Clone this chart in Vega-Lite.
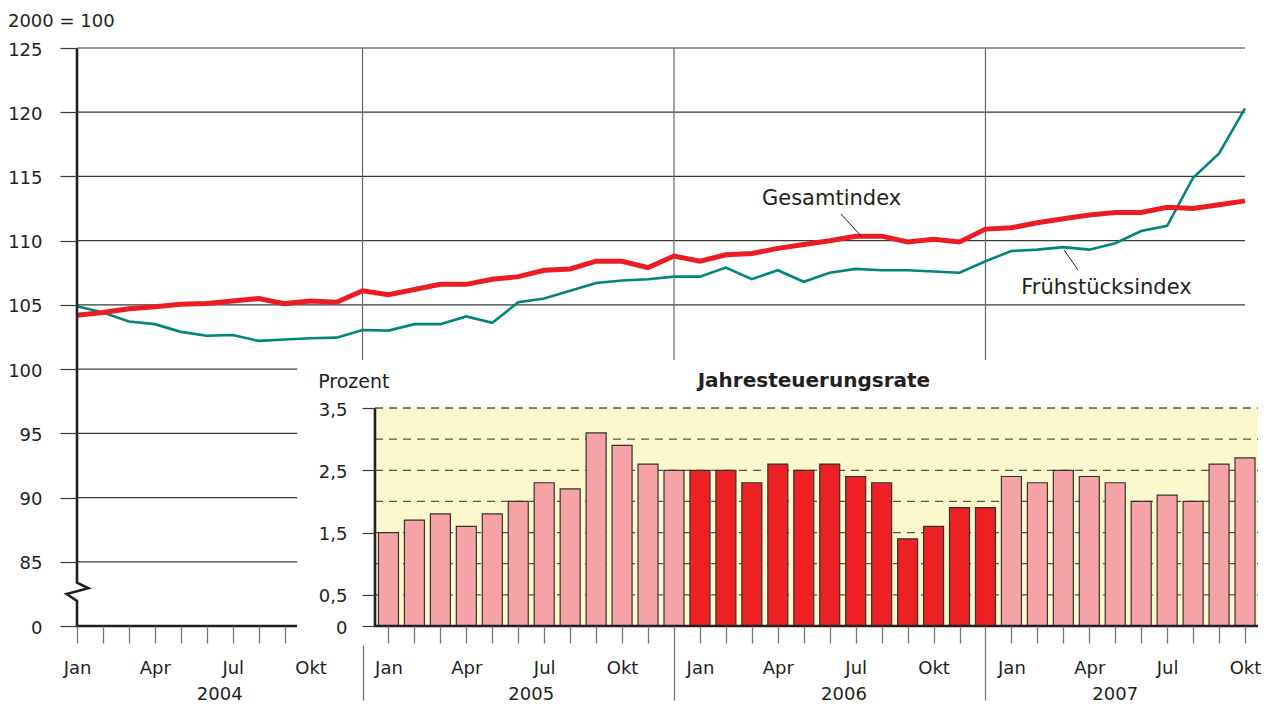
{
  "$schema": "https://vega.github.io/schema/vega-lite/v6.json",
  "width": 1181,
  "height": 578,
  "autosize": {"type": "none"},
  "padding": {"left": 77, "top": 48, "right": 16, "bottom": 80},
  "background": "white",
  "config": {
    "view": {"stroke": null},
    "font": "DejaVu Sans",
    "scale": {"continuousPadding": 0},
    "text": {"font": "DejaVu Sans", "color": "#231f20"}
  },
  "datasets": {
    "idx": [
      {"m": 0, "monat": "2004-01", "gesamt": 104.2, "frueh": 104.9},
      {"m": 1, "monat": "2004-02", "gesamt": 104.4, "frueh": 104.4},
      {"m": 2, "monat": "2004-03", "gesamt": 104.7, "frueh": 103.7},
      {"m": 3, "monat": "2004-04", "gesamt": 104.85, "frueh": 103.5},
      {"m": 4, "monat": "2004-05", "gesamt": 105.05, "frueh": 102.9},
      {"m": 5, "monat": "2004-06", "gesamt": 105.1, "frueh": 102.6},
      {"m": 6, "monat": "2004-07", "gesamt": 105.3, "frueh": 102.65},
      {"m": 7, "monat": "2004-08", "gesamt": 105.5, "frueh": 102.2},
      {"m": 8, "monat": "2004-09", "gesamt": 105.1, "frueh": 102.3},
      {"m": 9, "monat": "2004-10", "gesamt": 105.3, "frueh": 102.4},
      {"m": 10, "monat": "2004-11", "gesamt": 105.2, "frueh": 102.45},
      {"m": 11, "monat": "2004-12", "gesamt": 106.1, "frueh": 103.05},
      {"m": 12, "monat": "2005-01", "gesamt": 105.8, "frueh": 103.0},
      {"m": 13, "monat": "2005-02", "gesamt": 106.2, "frueh": 103.5},
      {"m": 14, "monat": "2005-03", "gesamt": 106.6, "frueh": 103.5},
      {"m": 15, "monat": "2005-04", "gesamt": 106.6, "frueh": 104.1},
      {"m": 16, "monat": "2005-05", "gesamt": 107.0, "frueh": 103.6},
      {"m": 17, "monat": "2005-06", "gesamt": 107.2, "frueh": 105.2},
      {"m": 18, "monat": "2005-07", "gesamt": 107.7, "frueh": 105.5},
      {"m": 19, "monat": "2005-08", "gesamt": 107.8, "frueh": 106.1},
      {"m": 20, "monat": "2005-09", "gesamt": 108.4, "frueh": 106.7},
      {"m": 21, "monat": "2005-10", "gesamt": 108.4, "frueh": 106.9},
      {"m": 22, "monat": "2005-11", "gesamt": 107.9, "frueh": 107.0},
      {"m": 23, "monat": "2005-12", "gesamt": 108.8, "frueh": 107.2},
      {"m": 24, "monat": "2006-01", "gesamt": 108.4, "frueh": 107.2},
      {"m": 25, "monat": "2006-02", "gesamt": 108.9, "frueh": 107.9},
      {"m": 26, "monat": "2006-03", "gesamt": 109.0, "frueh": 107.0},
      {"m": 27, "monat": "2006-04", "gesamt": 109.4, "frueh": 107.7},
      {"m": 28, "monat": "2006-05", "gesamt": 109.7, "frueh": 106.8},
      {"m": 29, "monat": "2006-06", "gesamt": 110.0, "frueh": 107.5},
      {"m": 30, "monat": "2006-07", "gesamt": 110.35, "frueh": 107.8},
      {"m": 31, "monat": "2006-08", "gesamt": 110.35, "frueh": 107.7},
      {"m": 32, "monat": "2006-09", "gesamt": 109.9, "frueh": 107.7},
      {"m": 33, "monat": "2006-10", "gesamt": 110.1, "frueh": 107.6},
      {"m": 34, "monat": "2006-11", "gesamt": 109.9, "frueh": 107.5},
      {"m": 35, "monat": "2006-12", "gesamt": 110.9, "frueh": 108.4},
      {"m": 36, "monat": "2007-01", "gesamt": 111.0, "frueh": 109.2},
      {"m": 37, "monat": "2007-02", "gesamt": 111.4, "frueh": 109.3},
      {"m": 38, "monat": "2007-03", "gesamt": 111.7, "frueh": 109.5},
      {"m": 39, "monat": "2007-04", "gesamt": 112.0, "frueh": 109.3},
      {"m": 40, "monat": "2007-05", "gesamt": 112.2, "frueh": 109.8},
      {"m": 41, "monat": "2007-06", "gesamt": 112.2, "frueh": 110.75},
      {"m": 42, "monat": "2007-07", "gesamt": 112.6, "frueh": 111.15},
      {"m": 43, "monat": "2007-08", "gesamt": 112.5, "frueh": 114.9},
      {"m": 44, "monat": "2007-09", "gesamt": 112.8, "frueh": 116.8},
      {"m": 45, "monat": "2007-10", "gesamt": 113.1, "frueh": 120.3}
    ],
    "rate": [
      {"m": 12, "monat": "2005-01", "jahr": "2005", "rate": 1.5},
      {"m": 13, "monat": "2005-02", "jahr": "2005", "rate": 1.7},
      {"m": 14, "monat": "2005-03", "jahr": "2005", "rate": 1.8},
      {"m": 15, "monat": "2005-04", "jahr": "2005", "rate": 1.6},
      {"m": 16, "monat": "2005-05", "jahr": "2005", "rate": 1.8},
      {"m": 17, "monat": "2005-06", "jahr": "2005", "rate": 2.0},
      {"m": 18, "monat": "2005-07", "jahr": "2005", "rate": 2.3},
      {"m": 19, "monat": "2005-08", "jahr": "2005", "rate": 2.2},
      {"m": 20, "monat": "2005-09", "jahr": "2005", "rate": 3.1},
      {"m": 21, "monat": "2005-10", "jahr": "2005", "rate": 2.9},
      {"m": 22, "monat": "2005-11", "jahr": "2005", "rate": 2.6},
      {"m": 23, "monat": "2005-12", "jahr": "2005", "rate": 2.5},
      {"m": 24, "monat": "2006-01", "jahr": "2006", "rate": 2.5},
      {"m": 25, "monat": "2006-02", "jahr": "2006", "rate": 2.5},
      {"m": 26, "monat": "2006-03", "jahr": "2006", "rate": 2.3},
      {"m": 27, "monat": "2006-04", "jahr": "2006", "rate": 2.6},
      {"m": 28, "monat": "2006-05", "jahr": "2006", "rate": 2.5},
      {"m": 29, "monat": "2006-06", "jahr": "2006", "rate": 2.6},
      {"m": 30, "monat": "2006-07", "jahr": "2006", "rate": 2.4},
      {"m": 31, "monat": "2006-08", "jahr": "2006", "rate": 2.3},
      {"m": 32, "monat": "2006-09", "jahr": "2006", "rate": 1.4},
      {"m": 33, "monat": "2006-10", "jahr": "2006", "rate": 1.6},
      {"m": 34, "monat": "2006-11", "jahr": "2006", "rate": 1.9},
      {"m": 35, "monat": "2006-12", "jahr": "2006", "rate": 1.9},
      {"m": 36, "monat": "2007-01", "jahr": "2007", "rate": 2.4},
      {"m": 37, "monat": "2007-02", "jahr": "2007", "rate": 2.3},
      {"m": 38, "monat": "2007-03", "jahr": "2007", "rate": 2.5},
      {"m": 39, "monat": "2007-04", "jahr": "2007", "rate": 2.4},
      {"m": 40, "monat": "2007-05", "jahr": "2007", "rate": 2.3},
      {"m": 41, "monat": "2007-06", "jahr": "2007", "rate": 2.0},
      {"m": 42, "monat": "2007-07", "jahr": "2007", "rate": 2.1},
      {"m": 43, "monat": "2007-08", "jahr": "2007", "rate": 2.0},
      {"m": 44, "monat": "2007-09", "jahr": "2007", "rate": 2.6},
      {"m": 45, "monat": "2007-10", "jahr": "2007", "rate": 2.7}
    ],
    "grid": [{"v": 85}, {"v": 90}, {"v": 95}, {"v": 100}, {"v": 105}, {"v": 110}, {"v": 115}, {"v": 120}, {"v": 125}],
    "sep": [{"m": 11}, {"m": 23}, {"m": 35}],
    "dashgrid": [{"v": 0.5}, {"v": 1.0}, {"v": 1.5}, {"v": 2.0}, {"v": 2.5}, {"v": 3.0}, {"v": 3.5}],
    "axisline": [
      {"o": 1, "m": 0, "v": 125},
      {"o": 2, "m": 0, "v": 83.37},
      {"o": 3, "m": 0.44, "v": 82.94},
      {"o": 4, "m": -0.4, "v": 82.49},
      {"o": 5, "m": 0, "v": 81.95},
      {"o": 6, "m": 0, "v": 80},
      {"o": 7, "m": 8.48, "v": 80}
    ],
    "years": [
      {"jahr": "2004", "m": 5.5},
      {"jahr": "2005", "m": 17.5},
      {"jahr": "2006", "m": 29.55},
      {"jahr": "2007", "m": 40.0}
    ]
  },
  "layer": [
    {
      "layer": [
        {
          "data": {"name": "grid"},
          "mark": {"type": "rule", "color": "#3a3a3a", "strokeWidth": 1.2},
          "encoding": {
            "y": {
              "field": "v", "type": "quantitative",
              "scale": {"domain": [80, 125], "nice": false, "zero": false},
              "axis": {
                "orient": "left", "values": [80, 85, 90, 95, 100, 105, 110, 115, 120, 125],
                "labelExpr": "datum.value == 80 ? '0' : '' + datum.value",
                "domain": false, "grid": false, "title": null,
                "tickSize": 17, "tickColor": "#3a3a3a", "tickWidth": 1.2,
                "labelFontSize": 18, "labelColor": "#231f20", "labelFont": "DejaVu Sans",
                "labelPadding": 18, "labelBaseline": "alphabetic", "labelOffset": 7,
                "zindex": 1
              }
            },
            "x": {
              "datum": 0, "type": "quantitative",
              "scale": {"domain": [0, 45.5], "nice": false, "zero": false, "padding": 0},
              "axis": {
                "orient": "bottom", "title": null, "domain": false, "grid": false,
                "values": [0,1,2,3,4,5,6,7,8,9,10,11,12,13,14,15,16,17,18,19,20,21,22,23,24,25,26,27,28,29,30,31,32,33,34,35,36,37,38,39,40,41,42,43,44,45],
                "tickCount": 46,
                "labelExpr": "datum.value % 3 == 0 ? ['Jan','Apr','Jul','Okt'][(datum.value % 12) / 3] : ''",
                "tickColor": "#777777", "tickWidth": 1.3,
                "tickSize": {"condition": {"test": "datum.value % 12 == 11", "value": 74}, "value": 17},
                "tickOpacity": {"condition": {"test": "datum.value == 9 || datum.value == 10", "value": 0}, "value": 1},
                "tickDash": {"condition": {"test": "datum.value == 11", "value": [0, 19, 60, 0]}, "value": [100, 0]},
                "labelFontSize": 18, "labelColor": "#231f20", "labelFont": "DejaVu Sans",
                "labelPadding": 16, "labelBaseline": "top", "labelOverlap": false,
                "labelFlush": false, "labelBound": false, "zindex": 1
              }
            },
            "x2": {"datum": 45}
          }
        },
        {
          "data": {"name": "sep"},
          "mark": {"type": "rule", "color": "#666666", "strokeWidth": 1.2},
          "encoding": {
            "x": {"field": "m", "type": "quantitative"},
            "y": {"datum": 80, "type": "quantitative"},
            "y2": {"datum": 125}
          }
        },
        {
          "data": {"name": "idx"},
          "mark": {"type": "line", "color": "#00857D", "strokeWidth": 2.6},
          "encoding": {
            "x": {"field": "m", "type": "quantitative"},
            "y": {"field": "frueh", "type": "quantitative"}
          }
        },
        {
          "data": {"name": "idx"},
          "mark": {"type": "line", "color": "#ED1C24", "strokeWidth": 5},
          "encoding": {
            "x": {"field": "m", "type": "quantitative"},
            "y": {"field": "gesamt", "type": "quantitative"}
          }
        },
        {
          "data": {"values": [{}]},
          "mark": {"type": "rule", "color": "#231f20", "strokeWidth": 1},
          "encoding": {
            "x": {"datum": 29.43, "type": "quantitative"},
            "x2": {"datum": 30.24},
            "y": {"datum": 112.08, "type": "quantitative"},
            "y2": {"datum": 110.29}
          }
        },
        {
          "data": {"values": [{}]},
          "mark": {"type": "rule", "color": "#231f20", "strokeWidth": 1},
          "encoding": {
            "x": {"datum": 38.03, "type": "quantitative"},
            "x2": {"datum": 38.57},
            "y": {"datum": 109.27, "type": "quantitative"},
            "y2": {"datum": 107.71}
          }
        },
        {
          "data": {"values": [{}]},
          "mark": {"type": "text", "text": "Gesamtindex", "fontSize": 21, "align": "center", "baseline": "alphabetic"},
          "encoding": {
            "x": {"datum": 29.07, "type": "quantitative"},
            "y": {"datum": 112.78, "type": "quantitative"}
          }
        },
        {
          "data": {"values": [{}]},
          "mark": {"type": "text", "text": "Frühstücksindex", "fontSize": 21, "align": "center", "baseline": "alphabetic"},
          "encoding": {
            "x": {"datum": 39.66, "type": "quantitative"},
            "y": {"datum": 105.85, "type": "quantitative"}
          }
        },
        {
          "data": {"values": [{}]},
          "mark": {"type": "text", "text": "2000 = 100", "fontSize": 18, "align": "left", "baseline": "alphabetic"},
          "encoding": {
            "x": {"datum": -2.66, "type": "quantitative"},
            "y": {"datum": 126.63, "type": "quantitative"}
          }
        },
        {
          "data": {"name": "years"},
          "mark": {"type": "text", "fontSize": 18, "align": "center", "baseline": "alphabetic"},
          "encoding": {
            "x": {"field": "m", "type": "quantitative"},
            "y": {"datum": 74.24, "type": "quantitative"},
            "text": {"field": "jahr"}
          }
        },
        {
          "data": {"name": "axisline"},
          "mark": {"type": "line", "color": "#231f20", "strokeWidth": 2.6, "strokeJoin": "miter"},
          "encoding": {
            "x": {"field": "m", "type": "quantitative"},
            "y": {"field": "v", "type": "quantitative"},
            "order": {"field": "o"}
          }
        }
      ]
    },
    {
      "layer": [
        {
          "data": {"values": [{}]},
          "mark": {"type": "rect", "color": "white"},
          "encoding": {
            "x": {"datum": 8.48, "type": "quantitative"},
            "x2": {"datum": 45.5},
            "y": {
              "datum": 4.27, "type": "quantitative",
              "scale": {"domain": [0, 3.5], "range": [578, 360], "nice": false, "zero": false},
              "axis": {
                "orient": "left", "offset": -298, "values": [0, 0.5, 1.5, 2.5, 3.5],
                "labelExpr": "replace('' + datum.value, '.', ',')",
                "domain": false, "grid": false, "title": null,
                "tickSize": 13, "tickColor": "#3a3a3a", "tickWidth": 1.2,
                "labelFontSize": 18, "labelColor": "#231f20", "labelFont": "DejaVu Sans",
                "labelPadding": 15, "labelBaseline": "alphabetic", "labelOffset": 7,
                "zindex": 1
              }
            },
            "y2": {"datum": 0}
          }
        },
        {
          "data": {"values": [{}]},
          "mark": {"type": "rect", "color": "#FDF7CC"},
          "encoding": {
            "x": {"datum": 11.48, "type": "quantitative"},
            "x2": {"datum": 45.5},
            "y": {"datum": 3.5, "type": "quantitative"},
            "y2": {"datum": 0}
          }
        },
        {
          "data": {"name": "dashgrid"},
          "mark": {"type": "rule", "color": "#555555", "strokeWidth": 1.3, "strokeDash": [8, 6]},
          "encoding": {
            "y": {"field": "v", "type": "quantitative"},
            "x": {"datum": 11.48, "type": "quantitative"},
            "x2": {"datum": 45.5}
          }
        },
        {
          "data": {"name": "rate"},
          "mark": {"type": "bar", "size": 20, "stroke": "#333333", "strokeWidth": 1.2},
          "encoding": {
            "x": {"field": "m", "type": "quantitative"},
            "y": {"field": "rate", "type": "quantitative"},
            "y2": {"datum": 0},
            "color": {
              "field": "jahr", "type": "nominal",
              "scale": {"domain": ["2005", "2006", "2007"], "range": ["#F5A3A6", "#ED2024", "#F5A3A6"]},
              "legend": null
            }
          }
        },
        {
          "data": {"values": [{}]},
          "mark": {"type": "rule", "color": "#231f20", "strokeWidth": 2.6},
          "encoding": {
            "x": {"datum": 11.48, "type": "quantitative"},
            "y": {"datum": 0, "type": "quantitative"},
            "y2": {"datum": 3.5}
          }
        },
        {
          "data": {"values": [{}]},
          "mark": {"type": "rule", "color": "#231f20", "strokeWidth": 2.6},
          "encoding": {
            "x": {"datum": 11.45, "type": "quantitative"},
            "x2": {"datum": 45.5},
            "y": {"datum": 0, "type": "quantitative"}
          }
        },
        {
          "data": {"values": [{}]},
          "mark": {"type": "text", "text": "Prozent", "fontSize": 19, "align": "left", "baseline": "alphabetic"},
          "encoding": {
            "x": {"datum": 9.29, "type": "quantitative"},
            "y": {"datum": 3.82, "type": "quantitative"}
          }
        },
        {
          "data": {"values": [{}]},
          "mark": {"type": "text", "text": "Jahresteuerungsrate", "fontSize": 20, "fontWeight": "bold", "align": "center", "baseline": "alphabetic"},
          "encoding": {
            "x": {"datum": 28.39, "type": "quantitative"},
            "y": {"datum": 3.84, "type": "quantitative"}
          }
        }
      ]
    }
  ],
  "resolve": {"scale": {"y": "independent"}, "axis": {"y": "independent"}}
}
